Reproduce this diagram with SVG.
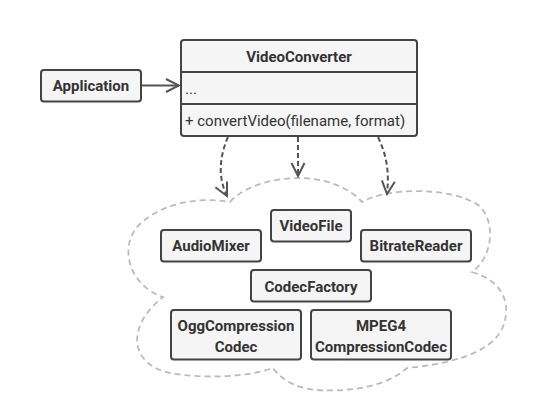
<svg xmlns="http://www.w3.org/2000/svg" width="546" height="407" viewBox="0 0 546 407">
<defs>
<style>
.box{fill:#f5f5f5;stroke:#444;stroke-width:2}
.div{stroke:#444;stroke-width:2}
.t{font-family:Roboto,"Open Sans",sans-serif;font-size:15px;font-weight:bold;fill:#333;text-anchor:middle}
.r{font-family:Roboto,"Open Sans",sans-serif;font-size:15px;fill:#333}
.dep{fill:none;stroke:#555;stroke-width:2;stroke-dasharray:5,3}
.cloud{fill:none;stroke:#bbb;stroke-width:1.8;stroke-dasharray:6,4}
</style>
<marker id="open" viewBox="0 0 16 16" refX="14" refY="8" markerWidth="16" markerHeight="16" markerUnits="userSpaceOnUse" orient="auto">
<path d="M1,1.5 L14,8 L1,14.5" fill="none" stroke="#555" stroke-width="2"/>
</marker>
</defs>
<rect width="546" height="407" fill="#fff"/>
<g id="cloud">
<path class="cloud" d="M230,202 C245,185 275,178 300,178 C325,178 350,188 362,202 C385,188 450,186 478,205 C495,218 495,255 472,272 C500,280 510,300 505,320 C500,345 470,362 407,368 C385,388 345,392 317,390 C295,388 282,380 273,368 C240,380 180,378 160,370 C130,358 128,325 163,297 C128,285 118,245 140,224 C160,205 195,196 230,202 Z"/>
</g>
<g id="connectors">
<line x1="142" y1="85.5" x2="179" y2="85.5" stroke="#555" stroke-width="2" marker-end="url(#open)"/>
<path class="dep" d="M228,137 C218,160 219,180 227,196" marker-end="url(#open)"/>
<path class="dep" d="M298,137 L298,176" marker-end="url(#open)"/>
<path class="dep" d="M378,137 C388,158 389,175 387,194" marker-end="url(#open)"/>
</g>
<g id="Application">
<rect class="box" x="41" y="70" width="100" height="31.5" rx="3"/>
<text class="t" x="91" y="91">Application</text>
</g>
<g id="VideoConverter">
<rect class="box" x="181" y="40" width="236" height="96" rx="3"/>
<line class="div" x1="181" y1="72" x2="417" y2="72"/>
<line class="div" x1="181" y1="104" x2="417" y2="104"/>
<text class="t" x="299" y="61.5">VideoConverter</text>
<text class="r" x="185" y="94">...</text>
<text class="r" x="185" y="126">+ convertVideo(filename, format)</text>
</g>
<g id="VideoFile">
<rect class="box" x="271" y="210" width="80" height="31.5" rx="3"/>
<text class="t" x="311" y="231">VideoFile</text>
</g>
<g id="AudioMixer">
<rect class="box" x="161" y="230" width="100" height="31.5" rx="3"/>
<text class="t" x="211" y="251">AudioMixer</text>
</g>
<g id="BitrateReader">
<rect class="box" x="361" y="230" width="110" height="31.5" rx="3"/>
<text class="t" x="416" y="251">BitrateReader</text>
</g>
<g id="CodecFactory">
<rect class="box" x="251" y="270" width="120" height="31.5" rx="3"/>
<text class="t" x="311" y="291.5">CodecFactory</text>
</g>
<g id="OggCompressionCodec">
<rect class="box" x="171" y="310" width="130" height="49.5" rx="3"/>
<text class="t" x="236" y="331">OggCompression</text>
<text class="t" x="236" y="351.5">Codec</text>
</g>
<g id="MPEG4CompressionCodec">
<rect class="box" x="311" y="310" width="140" height="49.5" rx="3"/>
<text class="t" x="381" y="331">MPEG4</text>
<text class="t" x="381" y="351.5">CompressionCodec</text>
</g>
</svg>
